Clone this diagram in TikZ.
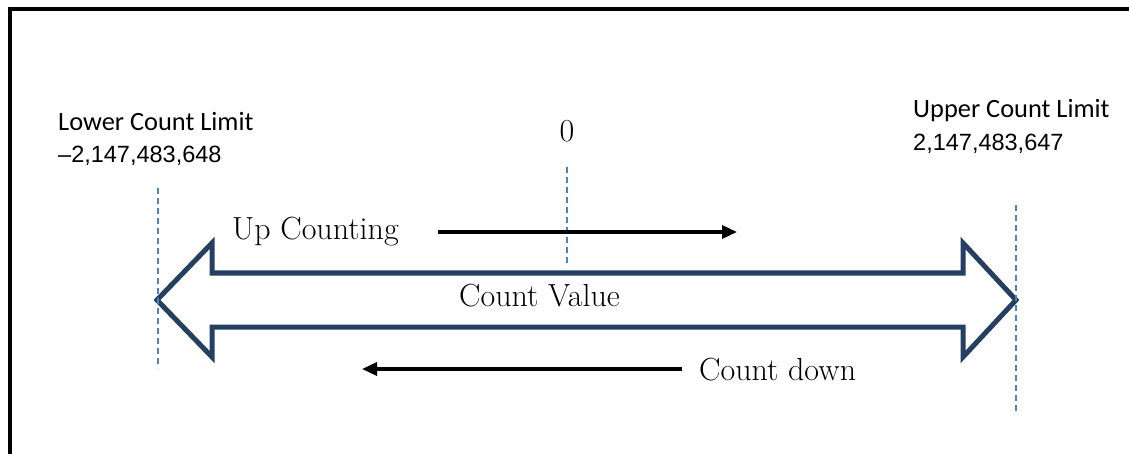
\documentclass[tikz,border=0pt]{standalone}
\usepackage{fontspec}
\newfontfamily\calfont{Carlito}
\newfontfamily\arialfont{Liberation Sans}
\usetikzlibrary{arrows.meta}
\definecolor{navy}{HTML}{243F60}
\definecolor{dashblue}{HTML}{4F81BD}
\tikzset{
  frameline/.style={line width=4pt, black},
  blockarrow/.style={line width=5pt, navy, line join=miter, fill=white},
  guide/.style={dashblue, line width=1.6pt, dash pattern=on 6pt off 4pt},
  flowarrow/.style={line width=3.5pt, black, -{Triangle[length=15pt,width=13pt]}},
  serif/.style={font=\fontsize{32}{38}\selectfont, inner sep=0pt, anchor=base west},
  limitword/.style={font=\calfont\fontsize{26.4}{30}\selectfont, inner sep=0pt, anchor=base west},
  limitnum/.style={font=\arialfont\fontsize{23.5}{28}\selectfont, inner sep=0pt, anchor=base west}
}
\begin{document}
\begin{tikzpicture}[x=1pt, y=-1pt]
\useasboundingbox (0,0) rectangle (1129,454);
% frame (only top and left sides visible)
\draw[frameline] (10,460) -- (10,9) -- (1135,9);
% guide lines
\coordinate (gl1) at (158,188); \coordinate (gl2) at (158,368);
\coordinate (gc1) at (567,167); \coordinate (gc2) at (567,267);
\coordinate (gr1) at (1016,205); \coordinate (gr2) at (1016,415);
% block double arrow
\draw[blockarrow] (157,300) -- (212,243) -- (212,273) -- (963,273) -- (963,243)
  -- (1016,300) -- (963,357) -- (963,327) -- (212,327) -- (212,357) -- cycle;
\draw[guide] (gl1) -- (gl2);
\draw[guide] (gc1) -- (gc2);
\draw[guide] (gr1) -- (gr2);
% labels
\node[limitword] (lowerw) at (58,131) {Lower Count Limit};
\node[limitnum] (lowern) at (58,163) {–2,147,483,648};
\node[limitword] (upperw) at (913,118) {Upper Count Limit};
\node[limitnum] (uppern) at (913,151) {2,147,483,647};
\node[serif, anchor=base] (zero) at (567,142) {0};
\node[serif] (up) at (232,240) {Up Counting};
\node[serif] (val) at (459,306) {Count Value};
\node[serif] (down) at (699,380) {Count down};
% flow arrows
\coordinate (ua1) at (438,232); \coordinate (ua2) at (737,232);
\coordinate (da1) at (682,369); \coordinate (da2) at (362,369);
\draw[flowarrow] (ua1) -- (ua2);
\draw[flowarrow] (da1) -- (da2);
\end{tikzpicture}
\end{document}
